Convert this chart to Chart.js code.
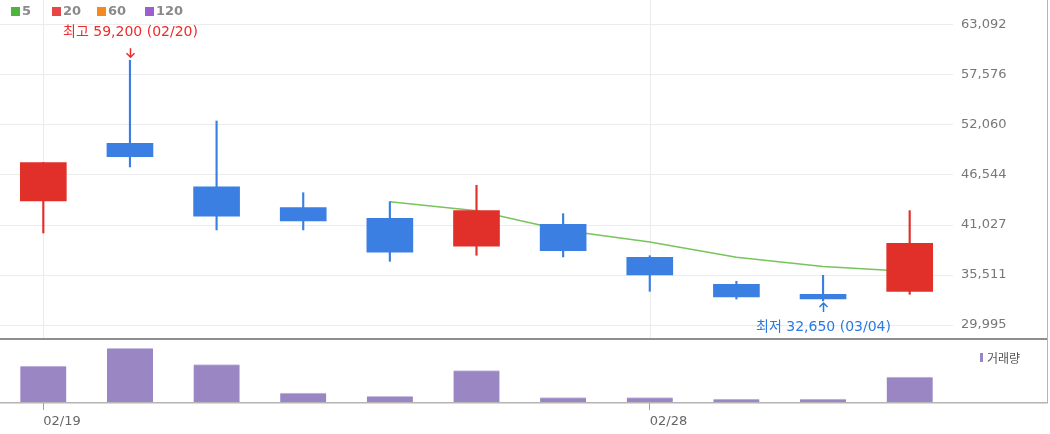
<!DOCTYPE html>
<html lang="ko">
<head>
<meta charset="utf-8">
<script src="https://cdn.jsdelivr.net/npm/chart.js@4.4.1/dist/chart.umd.min.js"></script>
<style>
  html, body { margin: 0; padding: 0; background: #fff; }
  #caixa { position: relative; width: 1050px; height: 434px; }
</style>
</head>
<body>
<div id="caixa"><canvas id="graficoCandle"></canvas></div>
<script>
const datas = ['02/19', '02/20', '02/21', '02/22', '02/23', '02/26', '02/27', '02/28', '02/29', '03/04', '03/05'];
const aberturas = [43680, 50040, 45250, 42940, 41770, 38680, 41100, 37470, 34490, 33380, 33710];
const maximas = [47920, 59200, 52500, 44590, 43600, 45410, 42280, 37640, 34820, 35480, 42610];
const minimas = [40150, 47430, 40480, 40480, 37020, 37690, 37500, 33710, 32860, 32650, 33380];
const fechamentos = [47920, 48560, 41990, 41470, 38020, 42610, 38190, 35510, 33090, 32880, 39010];
const media5 = [null, null, null, null, 43590, 42600, 40450, 39160, 37480, 36460, 35900];
const volumes = [3700, 5470, 3830, 1000, 670, 3230, 530, 530, 400, 400, 2600];
const ticksPreco = [29995, 35511, 41027, 46544, 52060, 57576, 63092];
const rotulosData = ['02/19', '02/28'];
const legendaMedias = ['5', '20', '60', '120'];

const coresMedias = ['#4fb43d', '#e84545', '#f5891f', '#9d5fd0'];
const VERMELHO = '#e1302a';
const AZUL = '#3b7fe2';
const ROXO = '#9b86c4';
const LINHA_PAINEL = 338;
const LINHA_BASE = 402;
const FONTE_TEXTO = '"DejaVu Sans", "Noto Sans CJK KR", sans-serif';

function corDoCandle(i) {
  return fechamentos[i] >= aberturas[i] ? VERMELHO : AZUL;
}

function formatarNumero(v) {
  return v.toLocaleString('en-US');
}

function desenharSeta(ctx, x, ponta, paraCima, cor) {
  const d = paraCima ? 1 : -1;
  ctx.strokeStyle = cor;
  ctx.lineWidth = 1.5;
  ctx.beginPath();
  ctx.moveTo(x, ponta);
  ctx.lineTo(x, ponta + 9 * d);
  ctx.moveTo(x - 4, ponta + 4 * d);
  ctx.lineTo(x, ponta);
  ctx.lineTo(x + 4, ponta + 4 * d);
  ctx.stroke();
}

function desenharAnotacoes(chart) {
  const { ctx, scales: { x, y } } = chart;
  const iMax = maximas.indexOf(Math.max(...maximas));
  const iMin = minimas.indexOf(Math.min(...minimas));

  ctx.font = '14px ' + FONTE_TEXTO;
  ctx.textAlign = 'center';
  ctx.textBaseline = 'middle';

  const xMax = Math.round(x.getPixelForValue(iMax)) + 0.5;
  const pontaMax = y.getPixelForValue(maximas[iMax]) - 3;
  desenharSeta(ctx, xMax, pontaMax, false, '#f02a2a');
  ctx.fillStyle = '#f02a2a';
  ctx.fillText(`최고 ${formatarNumero(maximas[iMax])} (${datas[iMax]})`, xMax, pontaMax - 25);

  const xMin = Math.round(x.getPixelForValue(iMin)) + 0.5;
  const pontaMin = y.getPixelForValue(minimas[iMin]) + 2;
  desenharSeta(ctx, xMin, pontaMin, true, '#2b7ae0');
  ctx.fillStyle = '#2b7ae0';
  ctx.fillText(`최저 ${formatarNumero(minimas[iMin])} (${datas[iMin]})`, xMin, pontaMin + 24);
}

function desenharLegendas(ctx) {
  const posicoes = [11, 52, 97, 145];
  ctx.font = 'bold 13px "DejaVu Sans"';
  ctx.textAlign = 'left';
  ctx.textBaseline = 'middle';
  legendaMedias.forEach((rotulo, i) => {
    ctx.fillStyle = coresMedias[i];
    ctx.fillRect(posicoes[i], 7, 9, 9);
    ctx.fillStyle = '#8a8a8a';
    ctx.fillText(rotulo, posicoes[i] + 11, 12);
  });

  ctx.fillStyle = ROXO;
  ctx.fillRect(980, 353, 3, 9);
  ctx.font = '12px "Noto Sans CJK KR"';
  ctx.fillStyle = '#555';
  ctx.fillText('거래량', 987, 358);
}

const pluginPainel = {
  id: 'pluginPainel',
  beforeDatasetsDraw(chart) {
    const { ctx, scales: { x } } = chart;
    ctx.save();
    ctx.strokeStyle = '#ebebeb';
    ctx.lineWidth = 1;
    rotulosData.forEach(rotulo => {
      const px = Math.round(x.getPixelForValue(datas.indexOf(rotulo))) + 0.5;
      ctx.beginPath();
      ctx.moveTo(px, 0);
      ctx.lineTo(px, LINHA_PAINEL);
      ctx.stroke();
    });
    ctx.restore();
  },
  afterDraw(chart) {
    const { ctx } = chart;
    ctx.save();
    ctx.fillStyle = '#8e8e8e';
    ctx.fillRect(0, LINHA_PAINEL, 1048, 2);
    ctx.fillStyle = '#b4b4b4';
    ctx.fillRect(0, LINHA_BASE, 1048, 1.5);
    ctx.fillRect(1047, 0, 1, LINHA_BASE);
    desenharLegendas(ctx);
    desenharAnotacoes(chart);
    ctx.restore();
  }
};

function montarDatasets() {
  const cores = datas.map((_, i) => corDoCandle(i));
  return [
    {
      label: 'corpo',
      data: datas.map((_, i) => [aberturas[i], fechamentos[i]]),
      backgroundColor: cores,
      barThickness: 46,
      grouped: false,
      yAxisID: 'y',
      order: 0
    },
    {
      label: 'pavio',
      data: datas.map((_, i) => [minimas[i], maximas[i]]),
      backgroundColor: cores,
      barThickness: 1.5,
      grouped: false,
      yAxisID: 'y',
      order: 1
    },
    {
      type: 'line',
      label: '5',
      data: media5,
      borderColor: '#78c45c',
      borderWidth: 1.5,
      pointRadius: 0,
      tension: 0,
      yAxisID: 'y',
      order: 2
    },
    {
      label: '거래량',
      data: volumes,
      backgroundColor: ROXO,
      borderColor: '#c8bde2',
      borderWidth: { top: 1, left: 0, right: 0, bottom: 0 },
      borderSkipped: 'start',
      barThickness: 46,
      grouped: false,
      yAxisID: 'yVol',
      order: 3
    }
  ];
}

new Chart(document.getElementById('graficoCandle'), {
  type: 'bar',
  data: {
    labels: datas,
    datasets: montarDatasets()
  },
  options: {
    responsive: true,
    maintainAspectRatio: false,
    animation: false,
    events: [],
    layout: { padding: { top: 0, left: 0, right: 2, bottom: 0 } },
    plugins: {
      legend: { display: false },
      tooltip: { enabled: false }
    },
    scales: {
      x: {
        offset: true,
        border: { display: false },
        grid: {
          offset: false,
          color: 'rgba(0,0,0,0)',
          tickLength: 7,
          tickColor: c => rotulosData.includes(datas[c.index]) ? '#a0a0a0' : 'rgba(0,0,0,0)'
        },
        ticks: {
          autoSkip: false,
          maxRotation: 0,
          align: 'start',
          padding: 4,
          color: '#666',
          font: { family: 'DejaVu Sans', size: 13 },
          callback: (v, i) => rotulosData.includes(datas[i]) ? datas[i] : ''
        },
        afterFit: scale => {
          scale.height = 31;
          scale.paddingLeft = 0;
          scale.paddingRight = 0;
        }
      },
      y: {
        position: 'right',
        min: 21390,
        max: 65850,
        border: { display: false },
        grid: { color: '#ececec', drawTicks: false },
        ticks: {
          padding: 8,
          color: '#777',
          font: { family: 'DejaVu Sans', size: 13 },
          callback: v => formatarNumero(v)
        },
        afterBuildTicks: scale => {
          scale.ticks = ticksPreco.map(v => ({ value: v }));
        },
        afterFit: scale => {
          scale.width = 95;
          scale.paddingTop = 0;
          scale.paddingBottom = 0;
        }
      },
      yVol: {
        display: false,
        position: 'right',
        min: 0,
        max: 40300
      }
    }
  },
  plugins: [pluginPainel]
});
</script>
</body>
</html>
